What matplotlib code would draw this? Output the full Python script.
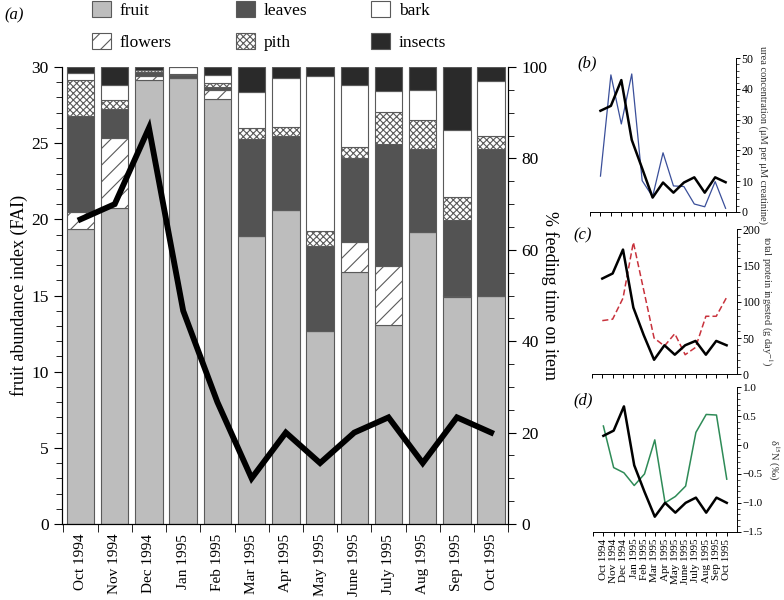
import numpy as np
import matplotlib
matplotlib.use('Agg')
import matplotlib.pyplot as plt
from matplotlib.ticker import MultipleLocator

plt.rcParams['font.family'] = ['Liberation Serif', 'DejaVu Serif']
plt.rcParams['mathtext.fontset'] = 'stix'
plt.rcParams['hatch.linewidth'] = 0.8

months = ['Oct 1994', 'Nov 1994', 'Dec 1994', 'Jan 1995', 'Feb 1995', 'Mar 1995',
          'Apr 1995', 'May 1995', 'June 1995', 'July 1995', 'Aug 1995', 'Sep 1995',
          'Oct 1995']

# % feeding time on each item
fruit   = [64.6, 69.1, 97.2, 97.7, 93.0, 63.1, 68.7, 42.3, 55.1, 43.5, 64.0, 49.7, 50.0]
flowers = [3.6, 15.3, 0.8, 0.0, 2.0, 0.0, 0.0, 0.0, 6.7, 13.0, 0.0, 0.3, 0.0]
leaves  = [21.1, 6.4, 1.0, 0.5, 0.6, 21.1, 16.1, 18.6, 18.2, 26.6, 18.1, 16.5, 32.1]
pith    = [7.9, 2.0, 0.3, 0.3, 1.0, 2.4, 2.0, 3.2, 2.6, 7.1, 6.2, 5.1, 2.7]
bark    = [1.4, 3.3, 0.0, 1.5, 1.6, 8.0, 10.7, 34.0, 13.5, 4.5, 6.7, 14.6, 12.1]
insects = [1.4, 3.9, 0.7, 0.0, 1.8, 5.4, 2.5, 1.9, 3.9, 5.3, 5.0, 13.8, 3.1]

# fruit abundance index
fai = [20, 21, 26, 14, 8, 3, 6, 4, 6, 7, 4, 7, 6]

# small panels
urea_black = [32.9, 34.5, 42.9, 23.4, 14.1, 4.6, 9.5, 6.2, 9.5, 11.2, 6.2, 11.2, 9.6]
urea_blue  = [11.6, 44.6, 28.6, 44.9, 10.1, 4.9, 19.2, 8.4, 8.2, 2.5, 1.6, 9.8, 1.1]
prot_black = [132, 139, 172, 92, 54, 20, 40, 27, 40, 46, 27, 46, 40]
prot_red   = [74, 76, 105, 182, 116, 50, 39, 56, 27, 37, 80, 80, 106]
d15n_black = [0.16, 0.25, 0.67, -0.35, -0.81, -1.24, -1.0, -1.17, -1.0, -0.91, -1.17, -0.91, -1.0]
d15n_green = [0.33, -0.39, -0.48, -0.70, -0.50, 0.09, -1.0, -0.89, -0.71, 0.22, 0.53, 0.52, -0.59]

items = [('fruit', fruit, '#bdbdbd', None),
         ('flowers', flowers, 'white', '//'),
         ('leaves', leaves, '#535353', None),
         ('pith', pith, 'white', 'xxxxx'),
         ('bark', bark, 'white', None),
         ('insects', insects, '#2a2a2a', None)]

fig = plt.figure(figsize=(7.84, 6), dpi=100)

# ---- panel (a) ----
ax = fig.add_axes([0.0787, 0.1267, 0.5696, 0.7616])
x = np.arange(len(months))
bottom = np.zeros(len(months))
handles = {}
for name, vals, col, hatch in items:
    b = ax.bar(x, vals, 0.8, bottom=bottom, color=col, edgecolor='#5a5a5a',
               linewidth=0.8, hatch=hatch, label=name)
    handles[name] = b
    bottom += np.array(vals)
ax.set_xlim(-0.55, 12.5)
ax.set_ylim(0, 100)
ax.set_xticks(x)
ax.set_xticklabels(months, rotation=90, fontsize=11)
ax.set_xticks(np.arange(-0.5, 12.6, 1), minor=True)
ax.tick_params(axis='x', which='major', length=0, pad=7)
ax.tick_params(axis='x', which='minor', length=6, direction='out')
ax.spines['top'].set_visible(False)

ax2 = ax.twinx()
ax2.plot(x, fai, color='black', linewidth=4.2, solid_joinstyle='miter')
ax2.set_ylim(0, 30)
ax2.spines['top'].set_visible(False)

# twinx puts the original ticks on the left, so swap sides afterwards
ax.yaxis.tick_right()
ax.yaxis.set_label_position('right')
ax.yaxis.set_major_locator(MultipleLocator(20))
ax.yaxis.set_minor_locator(MultipleLocator(5))
ax.tick_params(axis='y', which='major', length=6, labelsize=12.5)
ax.tick_params(axis='y', which='minor', length=4)
ax.set_ylabel('% feeding time on item', rotation=270, labelpad=8, fontsize=13)

ax2.yaxis.tick_left()
ax2.yaxis.set_label_position('left')
ax2.yaxis.set_major_locator(MultipleLocator(5))
ax2.yaxis.set_minor_locator(MultipleLocator(1))
ax2.tick_params(axis='y', which='major', length=6, labelsize=12.5)
ax2.tick_params(axis='y', which='minor', length=4)
ax2.set_ylabel('fruit abundance index (FAI)', fontsize=13, labelpad=2)

order = ['fruit', 'flowers', 'leaves', 'pith', 'bark', 'insects']
fig.legend([handles[n] for n in order], order, ncol=3, loc='upper left',
           bbox_to_anchor=(0.097, 1.025), frameon=False, fontsize=12.5,
           handlelength=1.1, handleheight=1.1, handletextpad=0.5,
           columnspacing=3.7, labelspacing=0.8)
fig.text(0.006, 0.975, '(a)', fontsize=12, style='italic', va='center')


# ---- small panels ----
def small_panel(rect, ylims, major, minor, label):
    a = fig.add_axes(rect)
    a.set_xlim(-1, 13)
    a.set_ylim(*ylims)
    a.spines['top'].set_visible(False)
    a.spines['left'].set_visible(False)
    a.spines['bottom'].set_linewidth(0.7)
    a.spines['right'].set_linewidth(0.7)
    a.yaxis.tick_right()
    a.yaxis.set_label_position('right')
    a.yaxis.set_major_locator(MultipleLocator(major))
    a.yaxis.set_minor_locator(MultipleLocator(minor))
    a.tick_params(axis='y', which='major', length=3, labelsize=8.5, pad=1, width=0.7)
    a.tick_params(axis='y', which='minor', length=2, width=0.5)
    a.set_xticks(np.arange(-1, 13))
    a.tick_params(axis='x', length=3, width=0.7)
    a.set_ylabel(label, rotation=270, fontsize=7.5, labelpad=10, color='#333333')
    return a


axb = small_panel([0.7526, 0.6472, 0.1862, 0.2556], (0, 50), 10, 2,
                  'urea concentration (μM per μM creatinine)')
axb.plot(x, urea_blue, color='#3a4f9a', linewidth=0.9)
axb.plot(x, urea_black, color='black', linewidth=1.8)
axb.set_xticklabels([])
fig.text(0.737, 0.895, '(b)', fontsize=12, style='italic', va='center')

axc = small_panel([0.755, 0.3762, 0.185, 0.2417], (0, 200), 50, 10,
                  'total protein ingested (g day$^{-1}$)')
axc.plot(x, prot_red, color='#c8323c', linewidth=1.1, linestyle=(0, (4, 2)))
axc.plot(x, prot_black, color='black', linewidth=1.8)
axc.set_xticklabels([])
fig.text(0.731, 0.607, '(c)', fontsize=12, style='italic', va='center')

axd = small_panel([0.7565, 0.1138, 0.1836, 0.2407], (-1.5, 1.0), 0.5, 0.1,
                  'δ$^{15}$N (‰)')
axd.yaxis.set_major_formatter(matplotlib.ticker.FuncFormatter(
    lambda v, p: '0' if abs(v) < 1e-9 else ('%.1f' % v).replace('-', '\u2212')))
axd.tick_params(axis='y', which='major', labelsize=8)
axd.plot(x, d15n_green, color='#2e8b57', linewidth=1.1)
axd.plot(x, d15n_black, color='black', linewidth=1.8)
axd.set_xticklabels([''] + months, rotation=90, fontsize=8)
axd.tick_params(axis='x', pad=2)
axd.yaxis.label.set_fontsize(7.5)
axd.yaxis.labelpad = 13
fig.text(0.731, 0.333, '(d)', fontsize=12, style='italic', va='center')

fig.savefig('out.png', dpi=100)
